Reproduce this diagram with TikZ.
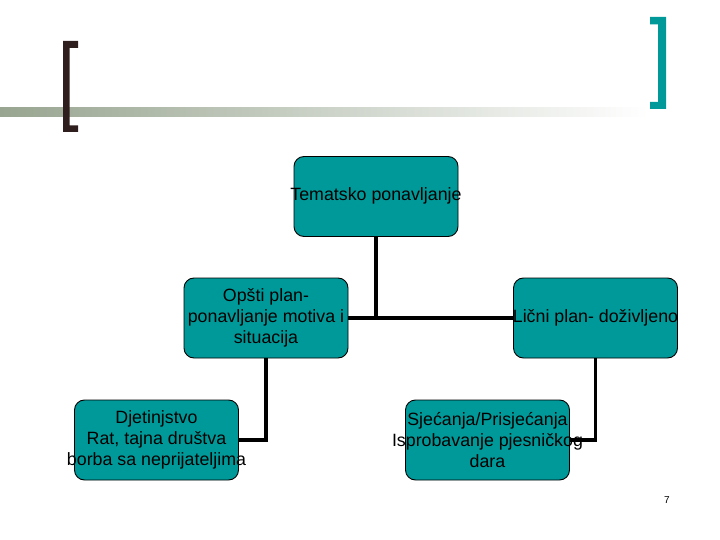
\documentclass[tikz,border=0pt]{standalone}
\usepackage{fontspec}
\setmainfont{Liberation Sans}
\usepackage{tikz}
\usetikzlibrary{positioning,calc}
\usepackage{xcolor}
\definecolor{fteal}{HTML}{009999}
\definecolor{fbrown}{HTML}{2E1E1E}
\definecolor{fsage}{HTML}{98A590}
\tikzset{
  topicbox/.style = {draw, line width=0.9pt, fill=fteal, rounded corners=10pt,
                     minimum width=164pt, minimum height=80pt, inner sep=0pt},
  boxtext/.style  = {align=center, inner sep=0pt,
                     font=\fontsize{17.8}{20.8}\selectfont},
  link/.style     = {line width=3.4pt},
}
\begin{document}
\begin{tikzpicture}[x=1pt,y=-1pt]
\useasboundingbox (0,0) rectangle (720,540);
% title bar and brackets
\shade[left color=fsage, right color=white] (0,107.5) rectangle (648,117);
\fill[fbrown] (63,41) -- (78,41) -- (78,48) -- (69.5,48) -- (69.5,125.5)
  -- (78,125.5) -- (78,132) -- (63,132) -- cycle;
\fill[fteal] (650,17) -- (666,17) -- (666,109) -- (650,109) -- (650,102)
  -- (658,102) -- (658,24.5) -- (650,24.5) -- cycle;
% boxes
\node[topicbox] (tema) at (376,196.5) {};
\node[topicbox] (opsti) at (266,318) {};
\node[topicbox] (licni) at (595.5,318) {};
\node[topicbox] (djet) at (156.5,440) {};
\node[topicbox] (sjec) at (487.5,440) {};
% connectors
\draw[link] (tema.south) -- (tema.south |- opsti.east);
\draw[link] (opsti.east) -- (licni.west);
\draw[link] (opsti.south) |- (djet.east);
\draw[link] (licni.south) |- (sjec.east);
% texts
\node[boxtext] (tema-t) at ([yshift=1pt]tema) {Tematsko ponavljanje};
\node[boxtext] (opsti-t) at (opsti) {Opšti plan-\\ponavljanje motiva i\\situacija};
\node[boxtext] (licni-t) at (licni) {Lični plan- doživljeno};
\node[boxtext] (djet-t) at (djet) {Djetinjstvo\\Rat, tajna društva\\borba sa neprijateljima};
\node[boxtext] (sjec-t) at (sjec) {Sjećanja/Prisjećanja\\Isprobavanje pjesničkog\\dara};
\node[font=\fontsize{10}{12}\selectfont] (broj) at (667,500) {7};
\end{tikzpicture}
\end{document}
